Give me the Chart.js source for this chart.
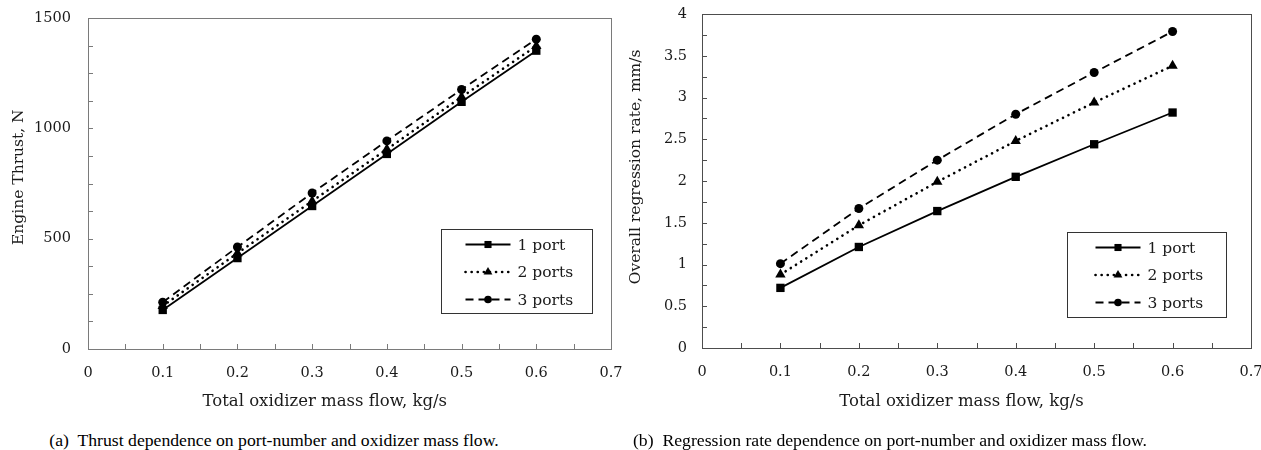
<!DOCTYPE html>
<html>
<head>
<meta charset="utf-8">
<script src="https://cdn.jsdelivr.net/npm/chart.js@4.4.1/dist/chart.umd.min.js"></script>
<style>
body{margin:0;background:#fff;width:1261px;height:450px;position:relative;overflow:hidden;font-family:'Liberation Serif',serif}
.box{position:absolute;top:0}
.cap{position:absolute;top:430px;font-size:17.7px;color:#000;white-space:pre;transform:translateX(-50%)}
</style>
</head>
<body>
<div class="box" style="left:0"><canvas id="thrustChart" width="630" height="420"></canvas></div>
<div class="box" style="left:615px"><canvas id="rateChart" width="646" height="420"></canvas></div>
<div class="cap" style="left:274px">(a)  Thrust dependence on port-number and oxidizer mass flow.</div>
<div class="cap" style="left:890px">(b)  Regression rate dependence on port-number and oxidizer mass flow.</div>

<script>
// data
const massFlow = [0.1, 0.2, 0.3, 0.4, 0.5, 0.6]
const seriesNames = ["1 port", "2 ports", "3 ports"]

const thrust1 = [177, 412, 648, 884, 1120, 1352]
const thrust2 = [195, 434, 670, 905, 1142, 1373]
const thrust3 = [212, 462, 707, 943, 1176, 1404]

const rate1 = [0.72, 1.21, 1.64, 2.05, 2.44, 2.82]
const rate2 = [0.88, 1.47, 1.99, 2.48, 2.94, 3.38]
const rate3 = [1.01, 1.67, 2.25, 2.80, 3.30, 3.79]

const xTicks = [0, 0.1, 0.2, 0.3, 0.4, 0.5, 0.6, 0.7]
const thrustTicks = [0, 500, 1000, 1500]
const rateTicks = [0, 0.5, 1, 1.5, 2, 2.5, 3, 3.5, 4]

const axisFont = "'DejaVu Serif', serif"
Chart.defaults.font.family = axisFont
Chart.defaults.font.size = 14.5
Chart.defaults.color = "#1a1a1a"

// styles per series
const styles = [
    {pointStyle: 'rect', pointRadius: 5.9, borderDash: [], borderWidth: 1.8, borderCapStyle: 'butt'},
    {pointStyle: 'triangle', pointRadius: 6, borderDash: [0.1, 6], borderWidth: 2.6, borderCapStyle: 'round'},
    {pointStyle: 'circle', pointRadius: 4.5, borderDash: [8, 5], borderWidth: 1.8, borderCapStyle: 'butt'}
]

function makeSets(lists){
    return lists.map((vals, i) => ({
        label: seriesNames[i],
        data: massFlow.map((x, j) => ({x, y: vals[j]})),
        borderColor: '#000',
        backgroundColor: '#000',
        pointBackgroundColor: '#000',
        pointBorderColor: '#000',
        pointBorderWidth: 0,
        ...styles[i]
    }))
}

// 테두리 + 안쪽 눈금
const frameTicks = {
    id: 'frameTicks',
    afterDraw(chart, args, o){
        const {ctx, chartArea: a, scales: {x, y}} = chart
        ctx.save()
        ctx.strokeStyle = o.color
        ctx.lineWidth = 1
        ctx.strokeRect(Math.round(a.left) + 0.5, Math.round(a.top) + 0.5, Math.round(a.right - a.left), Math.round(a.bottom - a.top))
        ctx.beginPath()
        for(let v = x.min + o.xMinor; v < x.max - 1e-9; v += o.xMinor){
            const px = Math.round(x.getPixelForValue(v)) + 0.5
            ctx.moveTo(px, a.bottom)
            ctx.lineTo(px, a.bottom - 5)
        }
        for(let v = y.min + o.yMinor; v < y.max - 1e-9; v += o.yMinor){
            const py = Math.round(y.getPixelForValue(v)) + 0.5
            ctx.moveTo(a.left, py)
            ctx.lineTo(a.left + 5, py)
        }
        ctx.stroke()
        ctx.restore()
    }
}

// 범례 (차트 안)
const boxLegend = {
    id: 'boxLegend',
    afterDraw(chart, args, o){
        const {ctx, chartArea: a} = chart
        const bx = Math.round(a.right - o.right - o.width) + 0.5
        const by = Math.round(a.bottom - o.bottom - o.height) + 0.5
        ctx.save()
        ctx.fillStyle = '#fff'
        ctx.strokeStyle = '#333'
        ctx.lineWidth = 1
        ctx.fillRect(bx, by, o.width, o.height)
        ctx.strokeRect(bx, by, o.width, o.height)
        chart.data.datasets.forEach((ds, i) => {
            const cy = by + 15 + i * 27.5
            const x1 = bx + o.lineStart, x2 = x1 + 45
            ctx.strokeStyle = '#000'
            ctx.lineWidth = ds.borderWidth
            ctx.lineCap = ds.borderCapStyle
            ctx.setLineDash(ds.borderDash)
            ctx.beginPath()
            ctx.moveTo(x1, cy)
            ctx.lineTo(x2, cy)
            ctx.stroke()
            ctx.setLineDash([])
            ctx.fillStyle = '#000'
            ctx.lineWidth = 0
            Chart.helpers.drawPoint(ctx, {pointStyle: ds.pointStyle, radius: ds.pointRadius * 0.85, rotation: 0, borderWidth: 0}, (x1 + x2) / 2, cy)
            ctx.fillStyle = '#1a1a1a'
            ctx.font = "15.5px " + axisFont
            ctx.textBaseline = 'middle'
            ctx.textAlign = 'left'
            ctx.fillText(ds.label, x2 + 7, cy + 1)
        })
        ctx.restore()
    }
}

function noPad(s){
    s.paddingLeft = 0; s.paddingRight = 0; s.paddingTop = 0; s.paddingBottom = 0
}

function makeChart(id, lists, yTicks, xTitle, yTitle, lay){
    return new Chart(document.getElementById(id), {
        type: 'line',
        data: { datasets: makeSets(lists) },
        plugins: [frameTicks, boxLegend],
        options: {
            responsive: false,
            animation: false,
            layout: { padding: {top: lay.top, right: lay.right, bottom: 0, left: 0} },
            plugins: {
                legend: { display: false },
                tooltip: { enabled: false },
                frameTicks: { color: lay.frame, xMinor: 0.05, yMinor: lay.yMinor },
                boxLegend: lay.legend
            },
            scales: {
                x: {
                    type: 'linear', min: 0, max: 0.7,
                    afterBuildTicks: s => { s.ticks = xTicks.map(v => ({value: v})) },
                    afterFit: s => { s.height = 420 - lay.bottom; noPad(s) },
                    grid: { display: false, drawTicks: false },
                    border: { display: false },
                    ticks: { padding: 16, maxRotation: 0, autoSkip: false, callback: v => String(v) },
                    title: { display: true, text: xTitle, font: {size: 16.5}, padding: {top: 0, bottom: 8} }
                },
                y: {
                    type: 'linear', min: 0, max: yTicks[yTicks.length - 1],
                    afterBuildTicks: s => { s.ticks = yTicks.map(v => ({value: v})) },
                    afterFit: s => { s.width = lay.left; noPad(s) },
                    grid: { display: false, drawTicks: false },
                    border: { display: false },
                    ticks: { padding: lay.tickPad, autoSkip: false, callback: v => String(v) },
                    title: { display: true, text: yTitle, font: {size: 15.5}, padding: {top: lay.titlePad, bottom: 0} }
                }
            }
        }
    })
}

makeChart('thrustChart', [thrust1, thrust2, thrust3], thrustTicks,
    'Total oxidizer mass flow, kg/s\u2002\u2002\u2002\u2002\u2002\u2002', '\u2002 Engine Thrust, N', {
    top: 18, right: 19, bottom: 349, left: 88, tickPad: 17, titlePad: 10, yMinor: 125, frame: '#7a7a7a',
    legend: {right: 19, bottom: 36, width: 151, height: 84, lineStart: 24}
})

makeChart('rateChart', [rate1, rate2, rate3], rateTicks,
    'Total oxidizer mass flow, kg/s\u2002\u2002\u2002 ', '\u2002\u2002\u2002 Overall regression rate, mm/s', {
    top: 14, right: 10, bottom: 348, left: 87, tickPad: 15, titlePad: 11.5, yMinor: 0.25, frame: '#4d4d4d',
    legend: {right: 25, bottom: 31, width: 159, height: 85, lineStart: 28}
})
</script>
</body>
</html>
